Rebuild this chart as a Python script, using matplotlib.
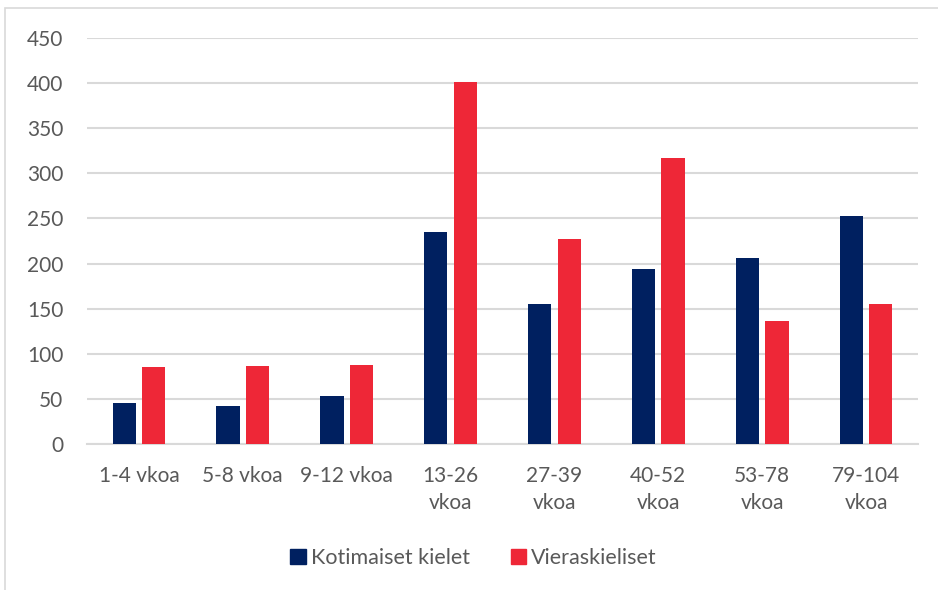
import numpy as np
import matplotlib
matplotlib.use("Agg")
import matplotlib.pyplot as plt
from matplotlib.patches import Rectangle, Patch

plt.rcParams["font.family"] = ["Lato", "DejaVu Sans"]

# ── Data ─────────────────────────────────────────────────────────────────────
categories = ["1-4 vkoa", "5-8 vkoa", "9-12 vkoa", "13-26\nvkoa", "27-39\nvkoa",
              "40-52\nvkoa", "53-78\nvkoa", "79-104\nvkoa"]
kotimaiset = [45, 42, 53, 235, 155, 194, 206, 253]
vieraskieliset = [85, 86, 88, 401, 227, 317, 136, 155]
series_names = ["Kotimaiset kielet", "Vieraskieliset"]
yticks = [0, 50, 100, 150, 200, 250, 300, 350, 400, 450]

NAVY = "#002060"
RED = "#EE2737"
TEXT = "#595959"
GRID = "#D9D9D9"

fig = plt.figure(figsize=(9.38, 5.9), dpi=100)
ax = fig.add_axes([87 / 938, 1 - 444 / 590, 831 / 938, (444 - 38) / 590])

# chart frame
fig.patches.append(Rectangle((5 / 938, -0.1), 1.1, 1 - 8 / 590 + 0.1,
                             transform=fig.transFigure, fill=False,
                             edgecolor="#D9D9D9", lw=1.2))

x = np.arange(len(categories))
w = 0.225
off = 0.142
ax.bar(x - off, kotimaiset, w, color=NAVY, zorder=3)
ax.bar(x + off, vieraskieliset, w, color=RED, zorder=3)

ax.set_xlim(-0.5, len(categories) - 0.5)
ax.set_ylim(0, 450)
ax.set_yticks(yticks)
ax.yaxis.grid(True, color=GRID, lw=1.5, zorder=0)
ax.set_axisbelow(True)
for s in ["top", "right", "left"]:
    ax.spines[s].set_visible(False)
ax.spines["bottom"].set_color(GRID)
ax.spines["bottom"].set_linewidth(1.5)
ax.tick_params(axis="both", length=0, labelsize=15, colors=TEXT)
ax.tick_params(axis="y", pad=17)
ax.tick_params(axis="x", pad=16)
ax.set_xticks(x)
ax.set_xticklabels(categories, linespacing=1.45)

handles = [Patch(color=NAVY), Patch(color=RED)]
fig.legend(handles, series_names, loc="center", bbox_to_anchor=(0.505, 1 - 558 / 590),
           ncol=2, frameon=False, fontsize=15.5, labelcolor=TEXT,
           handlelength=0.7, handleheight=0.7, handletextpad=0.25, columnspacing=1.9)

fig.savefig("out.png", dpi=100, facecolor="white")
